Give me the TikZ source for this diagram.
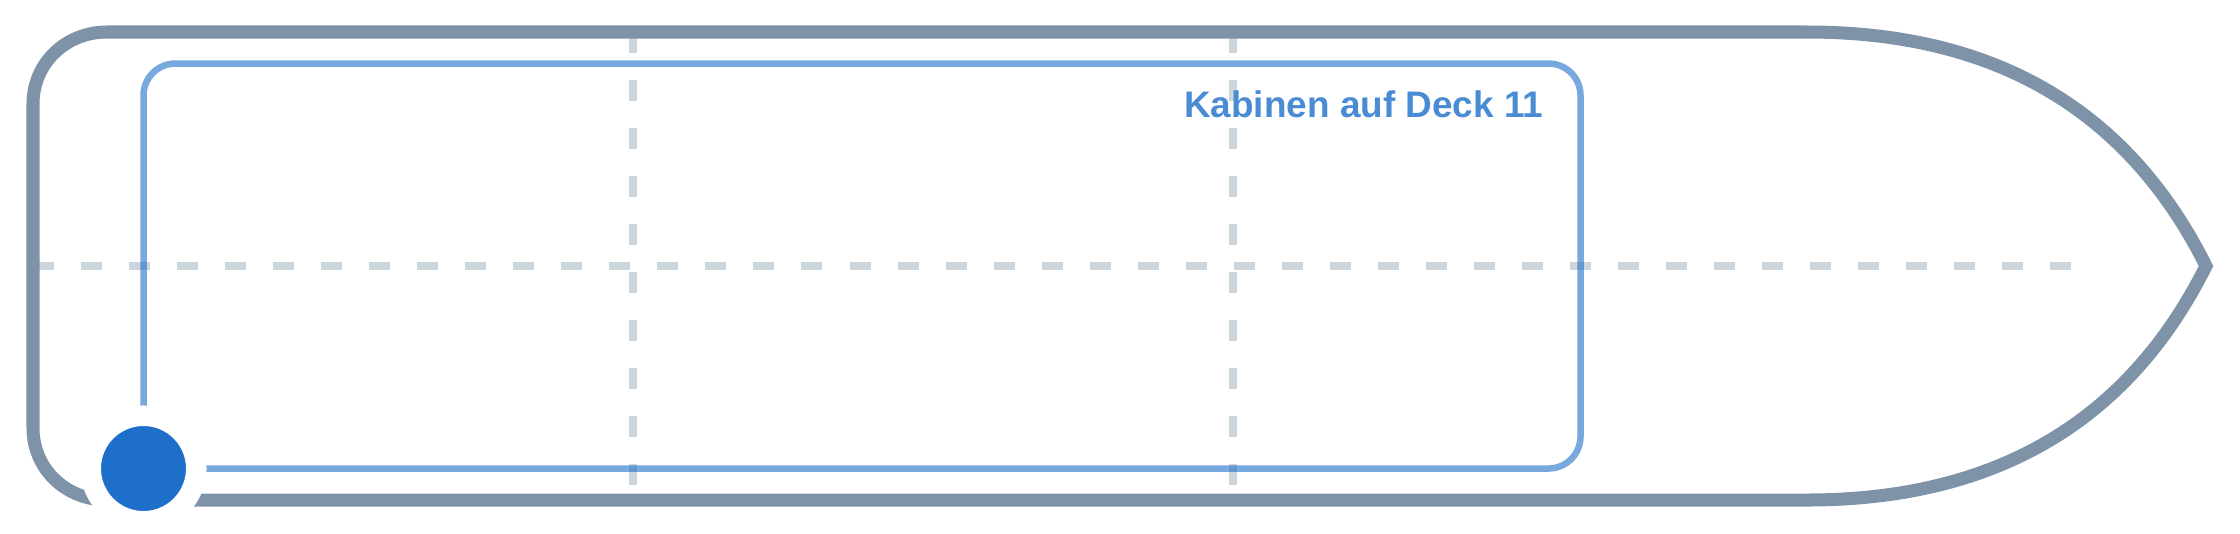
\documentclass[tikz,border=0pt]{standalone}
\usepackage{fontspec}
\setmainfont{Liberation Sans}
\usepackage{tikz}
\definecolor{hullgray}{RGB}{127,147,168}
\definecolor{stopblue}{RGB}{29,111,201}
\tikzset{
    hull/.style={draw=hullgray, line width=0.13cm},
    route/.style={draw=stopblue, draw opacity=0.6, line width=0.065cm},
    gridline/.style={draw=hullgray, draw opacity=0.4, line width=0.08cm, dash pattern=on 0.21cm off 0.27cm},
    stopdot/.style={circle, fill=stopblue, draw=white, line width=0.205cm, minimum size=1.055cm, inner sep=0pt},
    decklabel/.style={font=\fontsize{10.5}{12}\selectfont\bfseries, text=stopblue!80!white, inner sep=0pt}
}

\begin{document}
\begin{tikzpicture}[x=0.01cm, y=-0.01cm]
\useasboundingbox (0,0) rectangle (2240,533);

% Reference lines
\coordinate (midstart) at (33,266);
\coordinate (midend) at (2080,266);
\coordinate (cutAtop) at (633,32);
\coordinate (cutAbot) at (633,500);
\coordinate (cutBtop) at (1233,32);
\coordinate (cutBbot) at (1233,500);
\draw[gridline] (midstart) -- (midend);
\draw[gridline] (cutAtop) -- (cutAbot);
\draw[gridline] (cutBtop) -- (cutBbot);

% Cabin route
\node[stopdot] (stop) at (143.5,468.5) {};
\coordinate (nw) at (143.5,63.5);
\coordinate (ne) at (1580.5,63.5);
\coordinate (se) at (1580.5,468.5);
\draw[route, rounded corners=0.32cm] (stop.center) -- (nw) -- (ne) -- (se) -- (stop.center);

% Hull outline
\coordinate (topaft) at (107,32);
\coordinate (sideup) at (33,104);
\coordinate (sidedown) at (33,428);
\coordinate (botaft) at (107,500);
\coordinate (topfwd) at (1807,32);
\coordinate (botfwd) at (1807,500);
\coordinate (bow) at (2206,266);
\draw[hull] (topfwd) -- (topaft)
    .. controls (66,32) and (33,63) .. (sideup) -- (sidedown)
    .. controls (33,469) and (66,500) .. (botaft) -- (botfwd)
    .. controls (1995,500) and (2128,422) .. (bow)
    .. controls (2128,110) and (1995,32) .. (topfwd) -- cycle;

% Stop marker on top
\node[stopdot] at (stop) {};

% Label
\node[decklabel, anchor=base east] (deck) at (1544,117.5) {Kabinen auf Deck 11};
\end{tikzpicture}
\end{document}
